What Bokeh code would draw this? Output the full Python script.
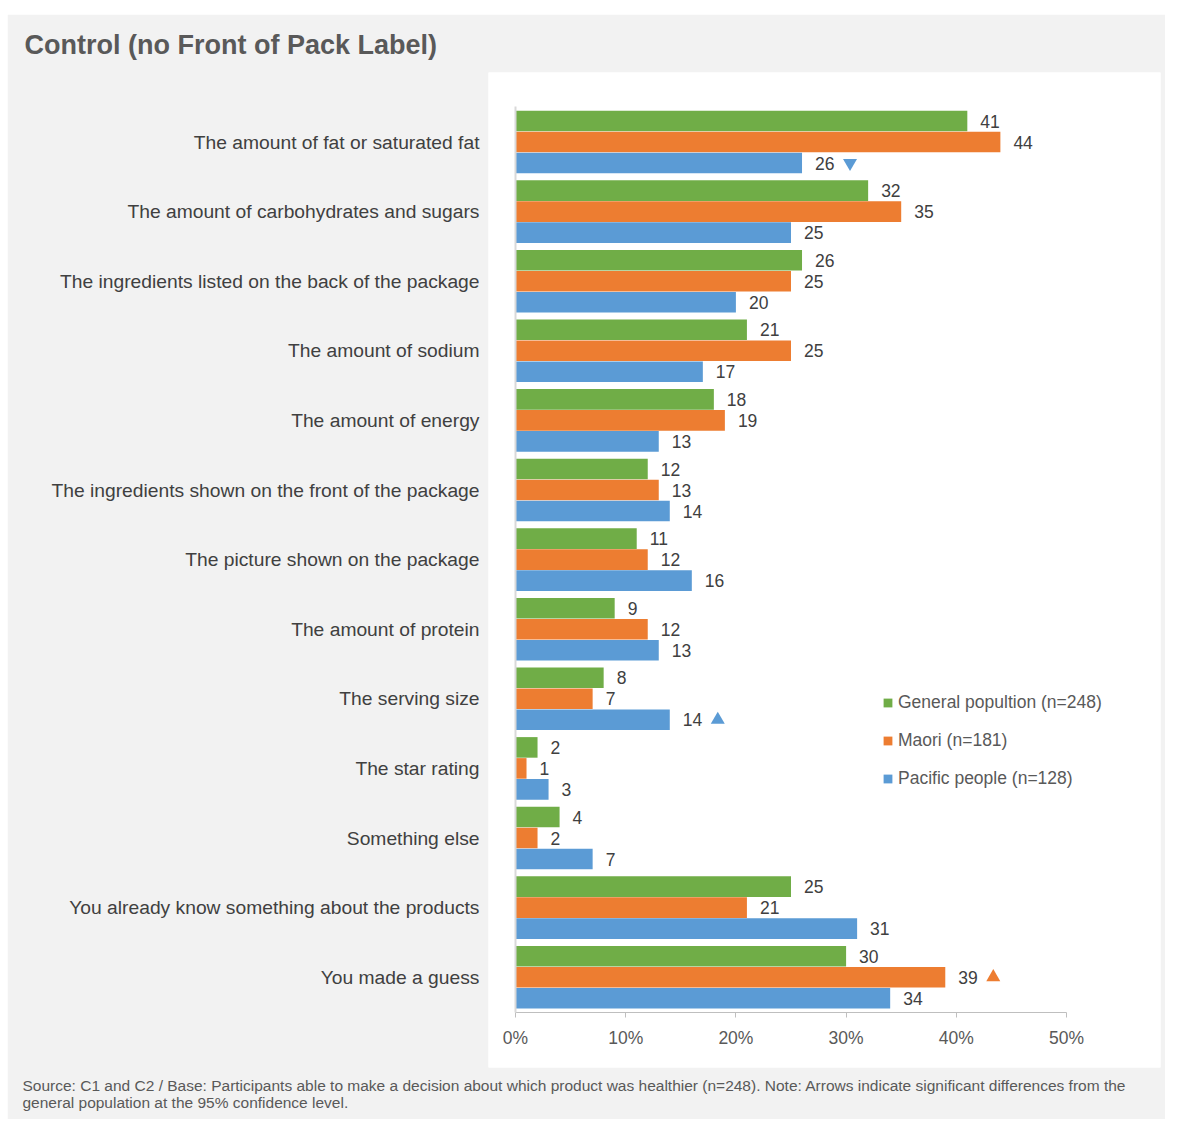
from bokeh.plotting import figure
from bokeh.layouts import column, row
from bokeh.models import (Range1d, LinearAxis, FixedTicker, PrintfTickFormatter,
                          ColumnDataSource, Legend, LegendItem, Title, Spacer)
from bokeh.transform import dodge
from bokeh.core.properties import value
from bokeh.embed import file_html
from bokeh.resources import INLINE

# ---------------- data ----------------
categories = [
    "The amount of fat or saturated fat",
    "The amount of carbohydrates and sugars",
    "The ingredients listed on the back of the package",
    "The amount of sodium",
    "The amount of energy",
    "The ingredients shown on the front of the package",
    "The picture shown on the package",
    "The amount of protein",
    "The serving size",
    "The star rating",
    "Something else",
    "You already know something about the products",
    "You made a guess",
]
series_names = ["General popultion (n=248)", "Maori (n=181)", "Pacific people (n=128)"]
general = [41, 32, 26, 21, 18, 12, 11, 9, 8, 2, 4, 25, 30]
maori = [44, 35, 25, 25, 19, 13, 12, 12, 7, 1, 2, 21, 39]
pacific = [26, 25, 20, 17, 13, 14, 16, 13, 14, 3, 7, 31, 34]
colors = ["#70AD47", "#ED7D31", "#5B9BD5"]
# significance arrows: (category, series index, direction)
arrows = [
    ("The amount of fat or saturated fat", 2, "down"),
    ("The serving size", 2, "up"),
    ("You made a guess", 1, "up"),
]
x_ticks = [0, 10, 20, 30, 40, 50]
title_text = "Control (no Front of Pack Label)"
foot1 = ("Source: C1 and C2 / Base: Participants able to make a decision about which product was "
         "healthier (n=248). Note: Arrows indicate significant differences from the")
foot2 = "general population at the 95% confidence level."

# ---------------- layout constants (canvas px) ----------------
FONT = "Liberation Sans"
OX, OY = 7, 14                              # white page strip left / top of the grey card
W, H = 1165 - OX, 1119 - OY
FL, FR, FT, FB = 481, 1153, 58, 1053        # white panel (= plot frame)
X0 = 508                                    # x = 0
PX_PER_PCT = 551.0 / 50
PITCH = 69.6                                # px per category group
BAR = 21.0 / PITCH                          # bar thickness in group units
BAR_TOP = 96                                # first bar's top edge
AXIS_GAP = 4.0 / PITCH

first_top = -1.5 * BAR
y_top = first_top - (BAR_TOP - FT) / PITCH
last_bottom = (len(categories) - 1) + 1.5 * BAR
y_bottom = last_bottom + (FB - (BAR_TOP + (last_bottom - first_top) * PITCH)) / PITCH
x_axis_loc = last_bottom + AXIS_GAP

values_all = [general, maori, pacific]

p = figure(width=W, height=H, output_backend="svg", toolbar_location=None,
           x_range=Range1d((FL - X0) / PX_PER_PCT, (FR - X0) / PX_PER_PCT),
           y_range=Range1d(y_bottom, y_top),
           x_axis_location=None, y_axis_location=None,
           min_border_left=FL, min_border_right=W - FR,
           min_border_top=FT, min_border_bottom=H - FB,
           title=Title(text=title_text, align="left", offset=17 - FL, standoff=25,
                       text_font=FONT, text_font_size="27px", text_font_style="bold",
                       text_color="#595959"))
p.border_fill_color = "#F2F2F2"
p.background_fill_color = "white"
p.outline_line_color = None
p.xgrid.visible = False
p.ygrid.visible = False

# category labels
cat_axis = LinearAxis(ticker=FixedTicker(ticks=list(range(len(categories))), minor_ticks=[]),
                      major_label_overrides={i: c for i, c in enumerate(categories)},
                      axis_line_color=None, major_tick_line_color=None,
                      minor_tick_line_color=None, major_tick_out=0, major_tick_in=0,
                      major_label_standoff=9, major_label_text_font=FONT,
                      major_label_text_font_size="19.25px", major_label_text_color="#404040")
p.add_layout(cat_axis, "left")

# vertical axis line at 0%
zero_axis = LinearAxis(fixed_location=0, ticker=FixedTicker(ticks=[], minor_ticks=[]),
                       bounds=(first_top - AXIS_GAP, x_axis_loc),
                       axis_line_color="#D9D9D9", axis_line_width=2,
                       major_tick_line_color=None, minor_tick_line_color=None,
                       major_label_text_font_size="0px")
p.add_layout(zero_axis, "left")

# percentage axis
xaxis = LinearAxis(fixed_location=x_axis_loc,
                   ticker=FixedTicker(ticks=x_ticks, minor_ticks=[]),
                   formatter=PrintfTickFormatter(format="%d%%"),
                   bounds=(x_ticks[0], x_ticks[-1]), axis_line_color="#BFBFBF",
                   major_tick_line_color="#BFBFBF", major_tick_in=0, major_tick_out=5,
                   minor_tick_line_color=None, major_label_standoff=10,
                   major_label_text_font=FONT, major_label_text_font_size="17.5px",
                   major_label_text_color="#595959")
p.add_layout(xaxis, "below")

p.add_layout(Title(text=foot1 + "\n" + foot2, align="left", offset=15 - FL, standoff=14,
                   text_font=FONT, text_font_size="15.5px", text_font_style="normal",
                   text_color="#595959", text_line_height=1.0), "below")

renderers = []
for j, (vals, col) in enumerate(zip(values_all, colors)):
    ys = [i + (j - 1) * BAR for i in range(len(categories))]
    src = ColumnDataSource(dict(y=ys, v=vals, t=[str(v) for v in vals]))
    r = p.hbar(y="y", left=0, right="v", height=BAR * 0.98, fill_color=col,
               line_color=None, source=src)
    renderers.append(r)
    p.text(x="v", y="y", text="t", x_offset=13, text_baseline="middle", text_align="left",
           text_font=value(FONT), text_font_size="17.5px", text_color="#404040", source=src)

arr_src = ColumnDataSource(dict(
    y=[categories.index(c) + (s - 1) * BAR for c, s, d in arrows],
    x=[values_all[s][categories.index(c)] for c, s, d in arrows],
    marker=["inverted_triangle" if d == "down" else "triangle" for c, s, d in arrows],
    color=[colors[s] for c, s, d in arrows],
))
p.scatter(x=dodge("x", 48 / PX_PER_PCT), y="y", marker="marker", size=14,
          fill_color="color", line_color=None, source=arr_src)

legend = Legend(items=[LegendItem(label=n, renderers=[r]) for n, r in zip(series_names, renderers)],
                location=(394, FB - 775), orientation="vertical",
                background_fill_alpha=0, border_line_color=None, padding=0, margin=0,
                spacing=17, glyph_width=11, glyph_height=11, label_standoff=5,
                label_height=21, label_text_font=FONT, label_text_font_size="17.5px",
                label_text_color="#595959")
p.add_layout(legend)

page = column(Spacer(width=W + OX, height=OY),
              row(Spacer(width=OX, height=H), p, spacing=0), spacing=0)

open("out.html", "w").write(file_html(page, INLINE))
